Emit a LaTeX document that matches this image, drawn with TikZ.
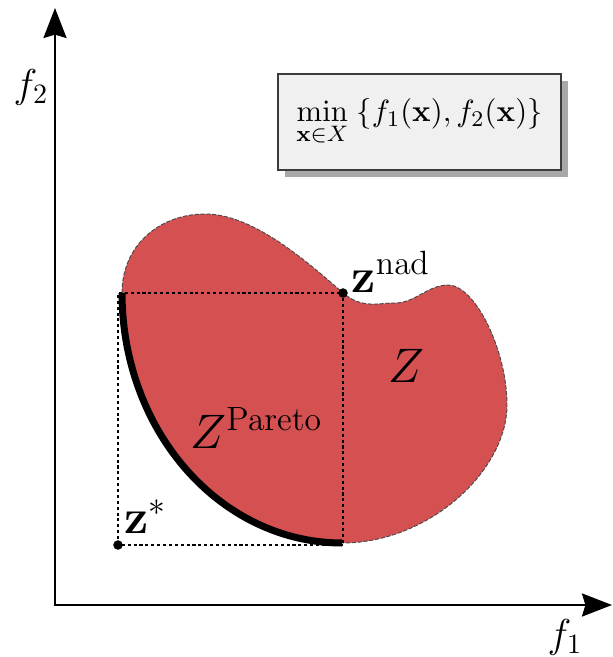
\documentclass[tikz,border=0pt]{standalone}
\usetikzlibrary{arrows.meta,shadows}
\definecolor{zred}{RGB}{213,80,81}
\definecolor{boxfill}{RGB}{240,240,240}
\definecolor{boxline}{RGB}{60,60,60}
\definecolor{shadowgray}{RGB}{168,168,168}
\begin{document}
\begin{tikzpicture}[x=0.357pt,y=-0.357pt,
  axis/.style={line width=0.9pt,{Stealth[length=10.7pt,width=8.2pt,inset=1.2pt]}-{Stealth[length=10.7pt,width=8.2pt,inset=1.2pt]}},
  blob/.style={fill=zred,draw=black!70,line width=0.35pt,dash pattern=on 1.5pt off 0.6pt},
  pareto/.style={line width=2.5pt,black},
  guide/.style={line width=0.5pt,dash pattern=on 1.1pt off 1pt},
  lab/.style={inner sep=0pt},
  probbox/.style={draw=boxline,fill=boxfill,line width=0.6pt,minimum width=101pt,minimum height=34.3pt,
    drop shadow={shadow xshift=2.5pt,shadow yshift=-2.5pt,fill=shadowgray,opacity=1}},
  dot/.style={circle,fill=black,inner sep=0pt,minimum size=3.4pt}
]
\useasboundingbox (0,0) rectangle (613,657);
% axes
\coordinate (O) at (55,605);
\coordinate (yend) at (55,8);
\coordinate (xend) at (612,605);
\draw[axis] (yend) |- (xend);
\node[lab,anchor=base] (f2) at (31,97) {\Large$f_2$};
\node[lab,anchor=base] (f1) at (565,647) {\Large$f_1$};
% problem box
\node[probbox] (prob) at (419.5,122) {\fontsize{10.8}{13}\selectfont$\displaystyle\min_{\mathbf{x}\in X}\;\{f_1(\mathbf{x}), f_2(\mathbf{x})\}$};
% feasible set
\coordinate (A) at (122,293);
\coordinate (T) at (205,214);
\coordinate (zn) at (343,293);
\coordinate (D) at (395,303);
\coordinate (B) at (448,285);
\coordinate (R) at (507,405);
\coordinate (Bot) at (342,543);
\path[blob] (A) .. controls (122,245) and (160,214) .. (T)
  .. controls (250,214) and (300,255) .. (zn)
  .. controls (362,309) and (378,303) .. (D)
  .. controls (415,303) and (428,285) .. (B)
  .. controls (475,285) and (507,350) .. (R)
  .. controls (507,470) and (430,543) .. (Bot)
  -- plot[domain=90:180,samples=60] ({342+220*cos(\x)},{293+250*sin(\x)}) -- cycle;
% points
\coordinate (zs) at (118,545);
\draw[guide] (zs) -- (zs|-zn) -- (zn) -- (zn|-zs) -- cycle;
\draw[pareto] plot[domain=180:90,samples=60] ({342+220*cos(\x)},{293+250*sin(\x)});
\node[dot] (zsd) at (zs) {};
\node[dot] (znd) at (zn) {};
% labels
\node[lab,anchor=base west] (znlab) at (351,292) {\fontsize{16.4}{19}\selectfont$\mathbf{z}^{\mathrm{nad}}$};
\node[lab,anchor=base west] (zslab) at (124,533) {\fontsize{16.4}{19}\selectfont$\mathbf{z}^{*}$};
\node[lab,anchor=base west] (Zlab) at (388,382) {\LARGE$Z$};
\node[lab,anchor=base west] (ZPlab) at (190,448) {\LARGE$Z^{\mathrm{Pareto}}$};
\end{tikzpicture}
\end{document}
